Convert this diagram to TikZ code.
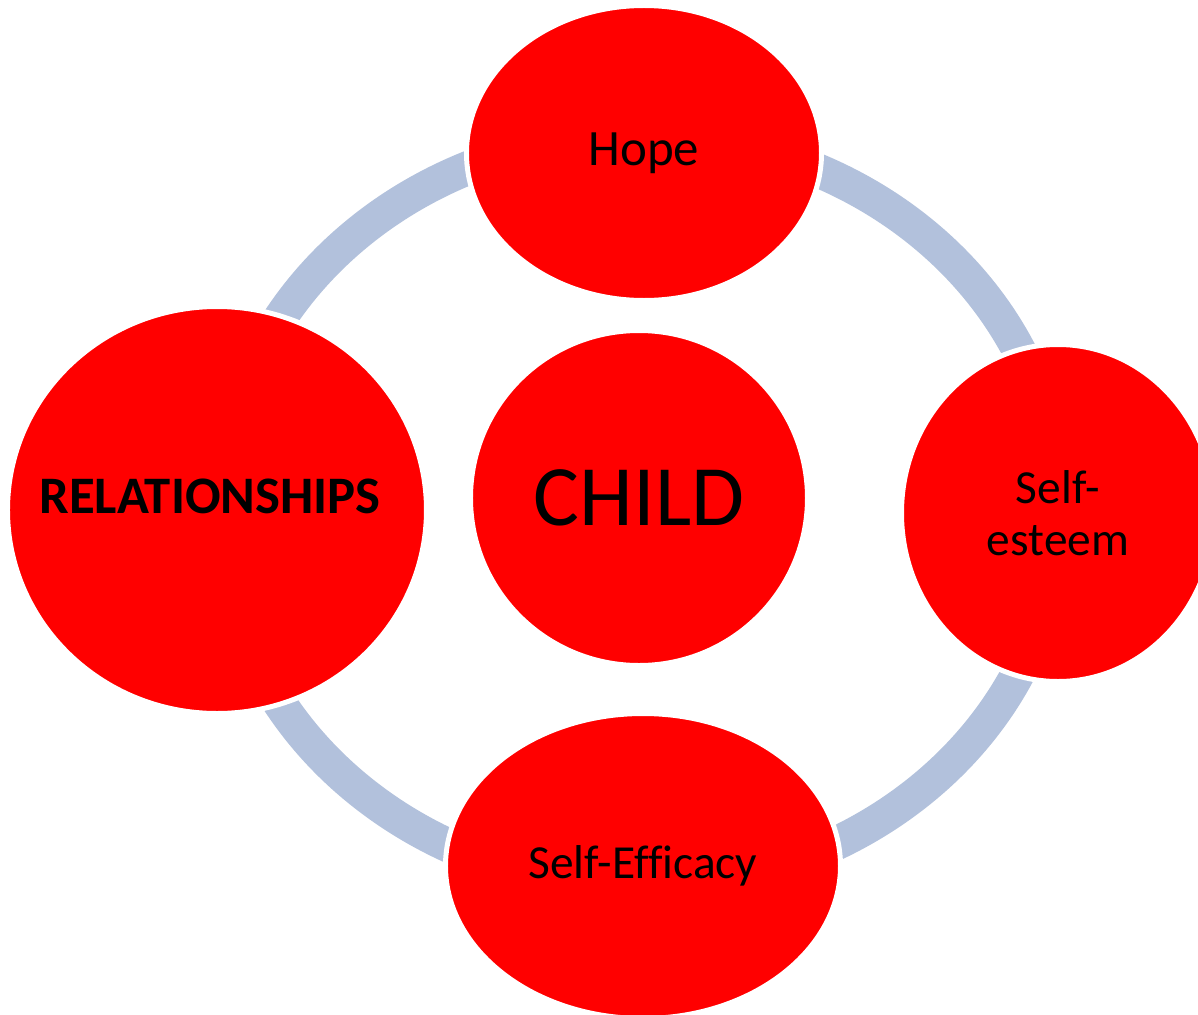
\documentclass[tikz,border=0pt]{standalone}
\usepackage{fontspec}
\setmainfont{Carlito}[Ligatures=NoCommon]
\usetikzlibrary{shapes.geometric}
\definecolor{ringblue}{HTML}{B2C1DC}
\tikzset{
  bubble/.style={ellipse, fill=red, draw=white, line width=1mm, inner sep=0pt, text=black},
  ring/.style={ringblue, line width=6.8mm}
}
\begin{document}
\begin{tikzpicture}[x=0.2mm, y=0.2mm]
	\useasboundingbox (-643,-503) rectangle (555,511);
	% ring round the child
	\foreach \a in {0,90,180,270}
		\draw[ring] ([xshift=-0.6mm]\a:419 and 376) arc[start angle=\a, delta angle=90, x radius=419, y radius=376];

	\node[bubble, minimum width=71mm, minimum height=59mm, font=\fontsize{29}{35}\selectfont] (hope) at (1,358) {Hope};
	\node[bubble, minimum width=62.6mm, minimum height=67.4mm, align=center, font=\fontsize{27}{29.6}\selectfont] (esteem) at (415,-2) {Self-\\esteem};
	\node[bubble, minimum width=79mm, minimum height=61mm, font=\fontsize{27}{32}\selectfont] (efficacy) at (0,-355) {Self-Efficacy};
	\node[bubble, minimum width=83.8mm, minimum height=81.4mm] (rel) at (-426,1) {};
	\node[font=\bfseries\fontsize{30}{36}\selectfont] (reltext) at (-433,15) {RELATIONSHIPS};
	\node[bubble, minimum width=67.4mm, minimum height=67mm, font=\fontsize{49}{58}\selectfont] (child) at (-4,13) {CHILD};
\end{tikzpicture}
\end{document}
